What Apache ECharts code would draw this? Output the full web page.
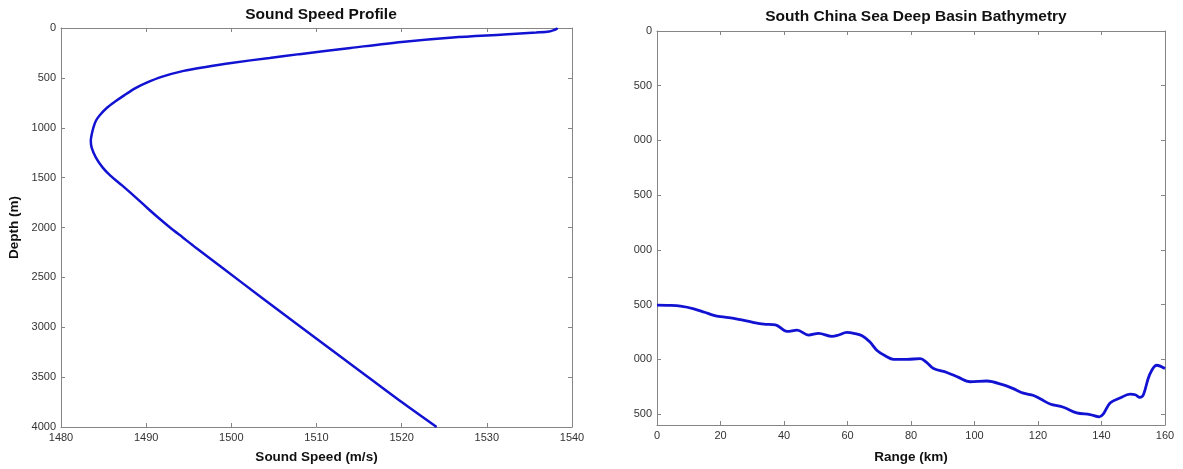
<!DOCTYPE html>
<html>
<head>
<meta charset="utf-8">
<title>Sound Speed Profile and Bathymetry</title>
<script src="https://cdn.jsdelivr.net/npm/echarts@6/dist/echarts.min.js"></script>
<style>
  html, body { margin: 0; padding: 0; background: #ffffff; }
  #chart { width: 1183px; height: 469px; }
</style>
</head>
<body>
<div id="chart"></div>
<script>
// Sound speed profile: depth (m) and sound speed (m/s)
const sspDepth = [0, 8, 20, 35, 45, 65, 95, 140, 200, 262, 300, 350, 390, 430, 490, 550, 600, 670, 735, 800, 870, 930, 1000, 1070, 1130, 1200, 1300, 1400, 1480, 1580, 1700, 1810, 1900, 2000, 2100, 2200, 2400, 2700, 3000, 3400, 3750, 4000];
const sspSpeed = [1538.3, 1538.2, 1537.9, 1537.3, 1535.8, 1532.0, 1526.0, 1520.0, 1514.0, 1508.0, 1504.5, 1500.0, 1497.0, 1494.4, 1491.8, 1490.0, 1488.8, 1487.5, 1486.4, 1485.4, 1484.6, 1484.1, 1483.8, 1483.6, 1483.5, 1483.6, 1484.1, 1484.9, 1485.8, 1487.2, 1488.8, 1490.2, 1491.4, 1492.8, 1494.3, 1495.8, 1498.9, 1503.5, 1508.2, 1514.5, 1520.0, 1524.1];

// Bathymetry along the track: range (km) and bottom depth (m)
const bathRange = [0, 4, 7.4, 11.6, 15, 17.9, 20, 24.2, 30.5, 33.6, 37.3, 41, 44.1, 47.8, 50.9, 55.1, 57, 59.8, 62, 64.6, 67, 69.3, 72, 74.5, 78.7, 82.9, 85, 87.1, 91.3, 95, 98.6, 103.9, 109.1, 112, 115.4, 118.6, 121, 123.8, 128, 132.2, 136.4, 139.3, 140.6, 142.7, 145.8, 149, 150.6, 152.1, 153.2, 155.1, 157.4, 160];
const bathDepth = [2505, 2507, 2514, 2538, 2570, 2598, 2610, 2625, 2664, 2679, 2685, 2745, 2733, 2778, 2763, 2790, 2780, 2754, 2762, 2784, 2840, 2919, 2970, 3000, 3000, 2994, 3030, 3084, 3120, 3165, 3205, 3198, 3234, 3265, 3309, 3330, 3365, 3408, 3438, 3489, 3505, 3525, 3498, 3399, 3354, 3318, 3324, 3348, 3324, 3144, 3054, 3084];

// Axis ranges and tick steps
const speedAxis = { min: 1480, max: 1540, step: 10 };
const depthAxis = { min: 0, max: 4000, step: 500 };
const rangeAxis = { min: 0, max: 160, step: 20 };
const bathAxis = { min: 0, max: 3600, step: 500 };

const FONT = '"Liberation Sans", Arial, Helvetica, sans-serif';
const AXIS_GRAY = '#858585';
const LABEL_COLOR = '#333333';
const LINE_BLUE = '#1212d2';

function pairs(xs, ys) { return xs.map((x, i) => [x, ys[i]]); }
function pairsYX(ys, xs) { return ys.map((y, i) => [xs[i], y]); }

// Plain numbers, no thousands separators
function plain(v) { return String(v); }

function boxAxis(base, opts) {
  return Object.assign({
    type: 'value',
    min: base.min,
    max: base.max,
    interval: base.step,
    splitLine: { show: false },
    axisLine: { show: true, onZero: false, lineStyle: { color: AXIS_GRAY, width: 1 } },
    axisTick: { show: true, inside: true, length: 4, lineStyle: { color: AXIS_GRAY } },
    axisLabel: { show: true, color: LABEL_COLOR, fontSize: 11, fontFamily: FONT, margin: 5, formatter: plain }
  }, opts);
}

const hidden = { show: false };

// The bathymetry panel's depth labels lose their thousands digit at the panel edge
function trimmedDepth(v) {
  const s = String(v);
  return v >= 1000 ? s.slice(-3) : s;
}

const chart = echarts.init(document.getElementById('chart'), null, { renderer: 'canvas' });

chart.setOption({
  backgroundColor: '#ffffff',
  animation: false,
  title: [
    {
      text: 'Sound Speed Profile',
      left: 316, top: 2, textAlign: 'center',
      textStyle: { fontFamily: FONT, fontSize: 15.5, fontWeight: 'bold', color: '#111111' }
    },
    {
      text: 'South China Sea Deep Basin Bathymetry',
      left: 911, top: 4, textAlign: 'center',
      textStyle: { fontFamily: FONT, fontSize: 15.5, fontWeight: 'bold', color: '#111111' }
    }
  ],
  grid: [
    { left: 61, top: 28, width: 511, height: 403, containLabel: false },
    { left: 657, top: 31, width: 508, height: 401, containLabel: false }
  ],
  xAxis: [
    boxAxis(speedAxis, {
      gridIndex: 0, position: 'bottom',
      name: 'Sound Speed (m/s)', nameLocation: 'middle', nameGap: 23,
      nameTextStyle: { fontFamily: FONT, fontSize: 13.5, fontWeight: 'bold', color: '#111111' }
    }),
    boxAxis(speedAxis, { gridIndex: 0, position: 'top', axisLabel: hidden }),
    boxAxis(rangeAxis, {
      gridIndex: 1, position: 'bottom',
      name: 'Range (km)', nameLocation: 'middle', nameGap: 25,
      nameTextStyle: { fontFamily: FONT, fontSize: 13.5, fontWeight: 'bold', color: '#111111' }
    }),
    boxAxis(rangeAxis, { gridIndex: 1, position: 'top', axisLabel: hidden })
  ],
  yAxis: [
    boxAxis(depthAxis, {
      gridIndex: 0, position: 'left', inverse: true,
      name: 'Depth (m)', nameLocation: 'middle', nameGap: 40,
      nameTextStyle: { fontFamily: FONT, fontSize: 13.5, fontWeight: 'bold', color: '#111111' }
    }),
    boxAxis(depthAxis, { gridIndex: 0, position: 'right', inverse: true, axisLabel: hidden }),
    boxAxis(bathAxis, {
      gridIndex: 1, position: 'left', inverse: true,
      axisLabel: { show: true, color: LABEL_COLOR, fontSize: 11, fontFamily: FONT, margin: 5,
                   showMaxLabel: false, formatter: trimmedDepth }
    }),
    boxAxis(bathAxis, { gridIndex: 1, position: 'right', inverse: true, axisLabel: hidden })
  ],
  series: [
    {
      name: 'Sound speed',
      type: 'line',
      xAxisIndex: 0, yAxisIndex: 0,
      data: pairsYX(sspDepth, sspSpeed),
      showSymbol: false,
      smooth: 0.3,
      clip: true,
      lineStyle: { color: LINE_BLUE, width: 2.5 }
    },
    {
      name: 'Bathymetry',
      type: 'line',
      xAxisIndex: 2, yAxisIndex: 2,
      data: pairs(bathRange, bathDepth),
      showSymbol: false,
      smooth: 0.35,
      clip: true,
      lineStyle: { color: LINE_BLUE, width: 2.8 }
    }
  ]
});
</script>
</body>
</html>
